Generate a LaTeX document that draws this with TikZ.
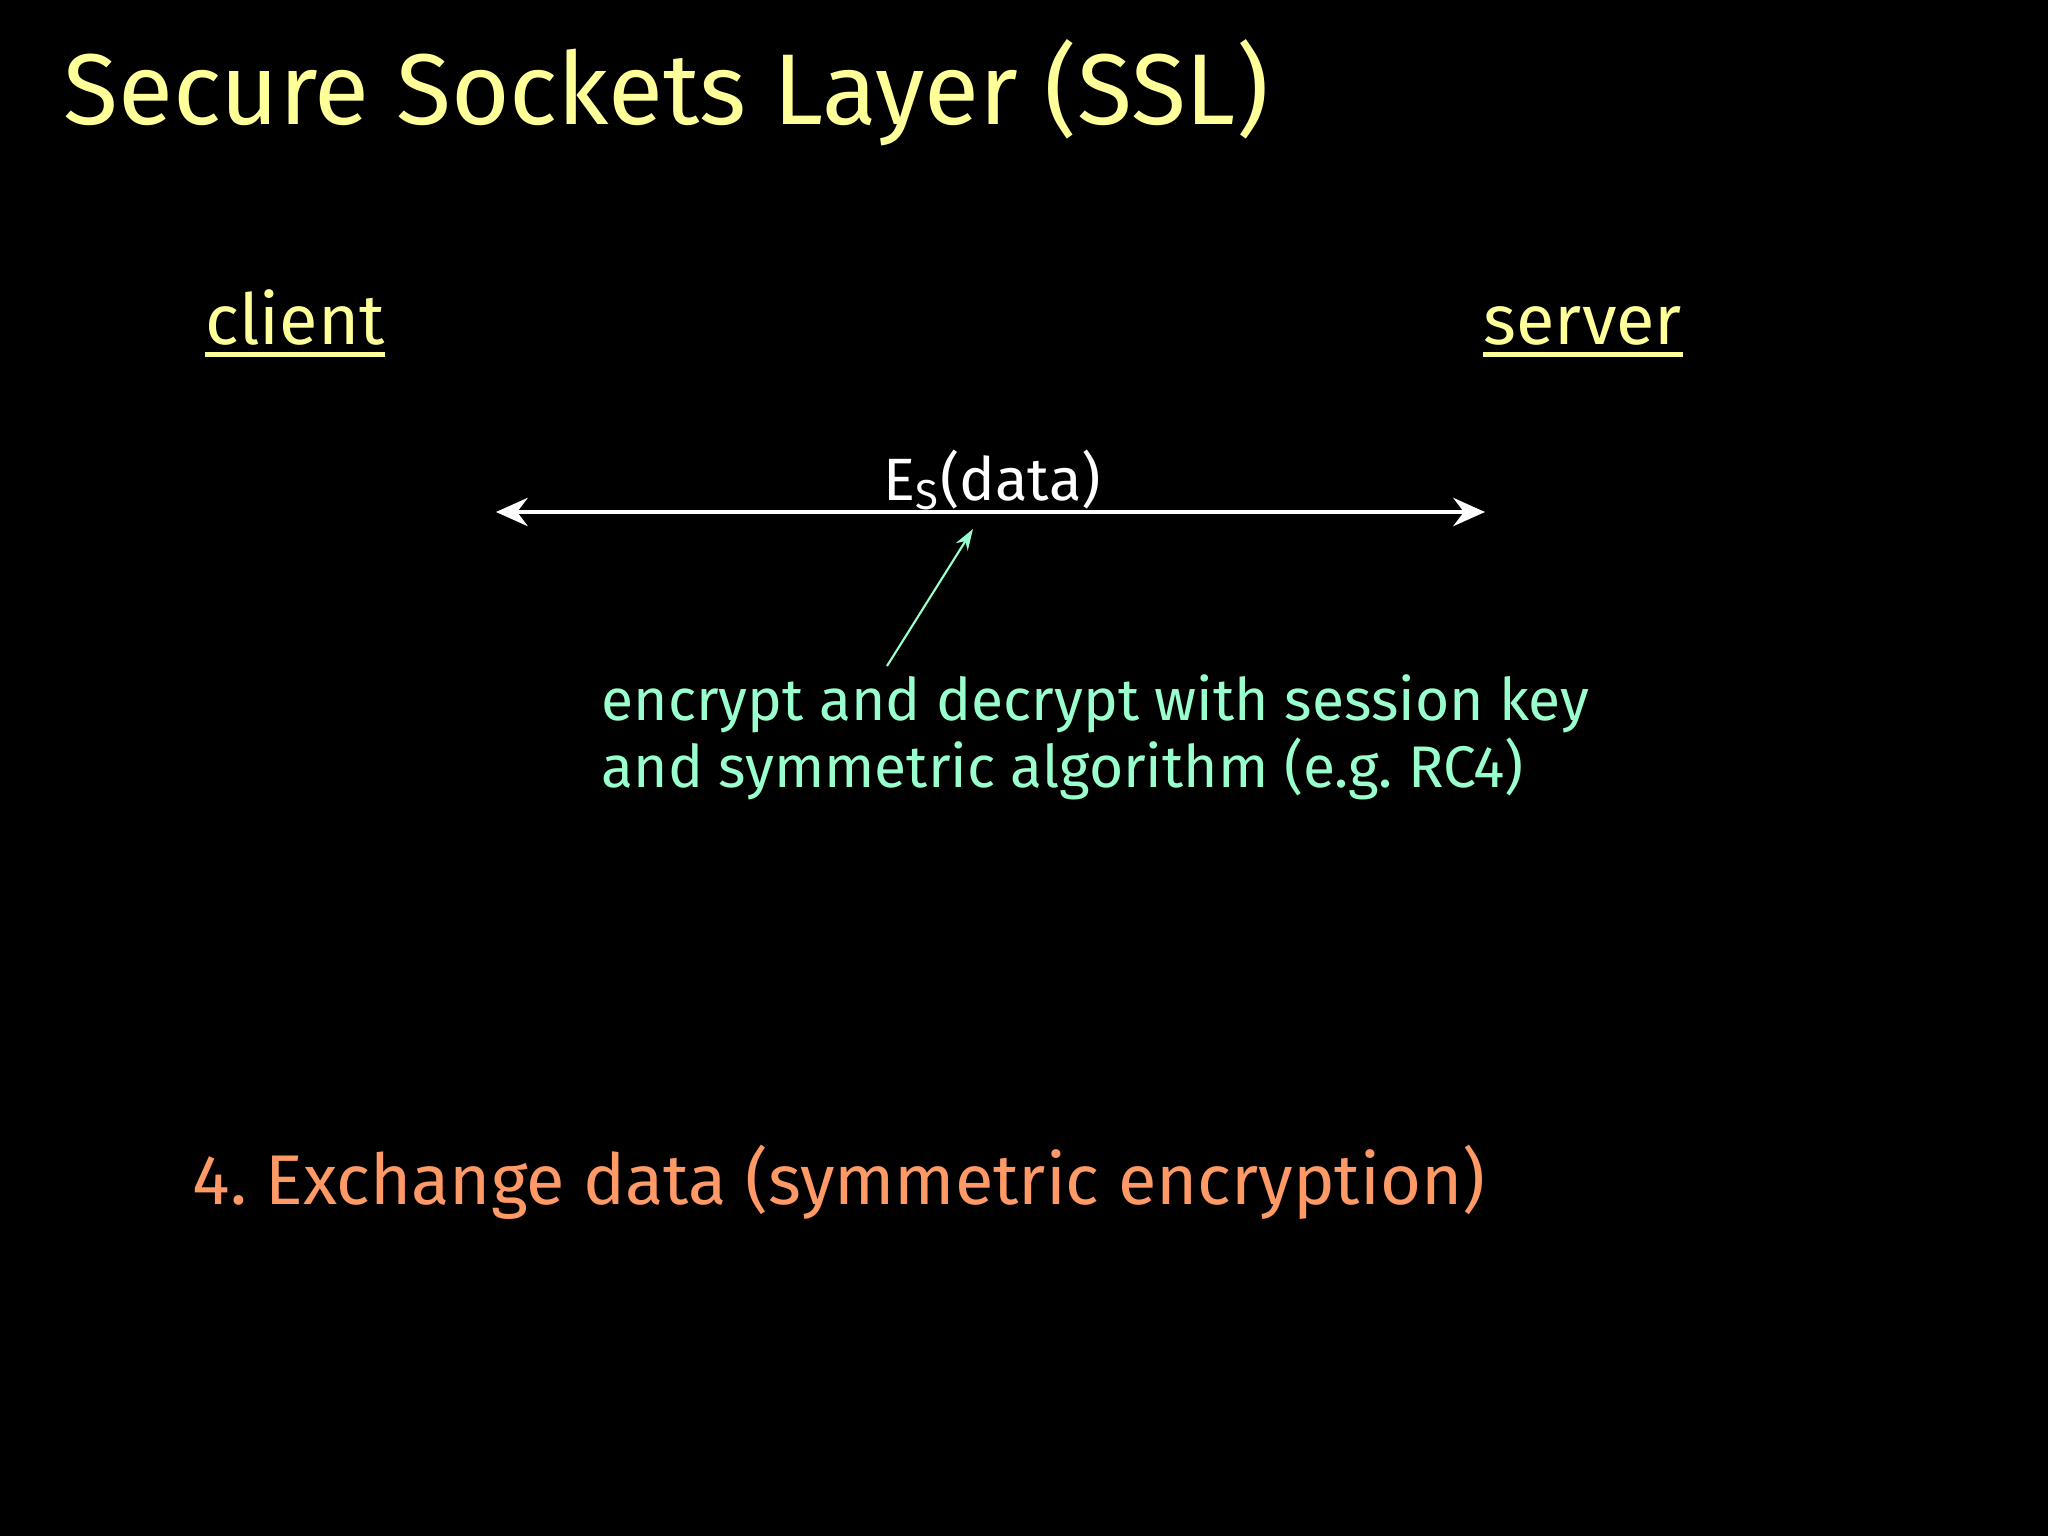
\documentclass[tikz,border=0pt]{standalone}
\usepackage{fontspec}
\setmainfont{Fira Sans}
\usetikzlibrary{arrows.meta,positioning}
\definecolor{titleyellow}{HTML}{FFFF99}
\definecolor{notegreen}{HTML}{99FFCC}
\definecolor{steporange}{HTML}{FF9966}
\begin{document}
\frenchspacing
\begin{tikzpicture}[x=0.01cm, y=-0.01cm,
    every node/.style={inner sep=0pt, anchor=base west},
    party/.style={text=titleyellow, font=\fontsize{20}{24}\selectfont},
    underbar/.style={titleyellow, line width=1.2pt},
    msgline/.style={white, line width=1.2pt, {Stealth[length=9pt,width=8pt,inset=3pt]}-{Stealth[length=9pt,width=8pt,inset=3pt]}},
    pointer/.style={notegreen, line width=0.6pt, -{Stealth[length=6pt,width=4pt]}}]
  % Background
  \fill[black] (0,0) rectangle (2048,1536);
  \useasboundingbox (0,0) rectangle (2048,1536);

  % Title
  \node[text=titleyellow, font=\fontsize{28.6}{32}\selectfont] (title) at (63,124) {Secure Sockets Layer (SSL)};

  % Parties
  \node[party] (client) at (205,344) {client};
  \node[party] (server) at (1483,344) {server};
  \draw[underbar] ([yshift=-3pt]client.base west) -- ([yshift=-3pt]client.base east);
  \draw[underbar] ([yshift=-3pt]server.base west) -- ([yshift=-3pt]server.base east);

  % Data exchange
  \coordinate (cl) at (496,512);
  \coordinate (sv) at (1485,512);
  \draw[msgline] (cl) -- (sv);
  \node[text=white, font=\fontsize{17}{21}\selectfont] (es) at (883,500) {E\textsubscript{S}(data)};

  % Note on session key
  \node[text=notegreen, font=\fontsize{16.7}{19}\selectfont, align=left, anchor=north west] (note) at (601,674)
    {encrypt and decrypt with session key\\and symmetric algorithm (e.g. RC4)};
  \coordinate (tail) at (887,666);
  \coordinate (head) at (973,529);
  \draw[pointer] (tail) -- (head);

  % Step
  \node[text=steporange, font=\fontsize{20}{24}\selectfont] (step4) at (192,1204) {4. Exchange data (symmetric encryption)};
\end{tikzpicture}
\end{document}
